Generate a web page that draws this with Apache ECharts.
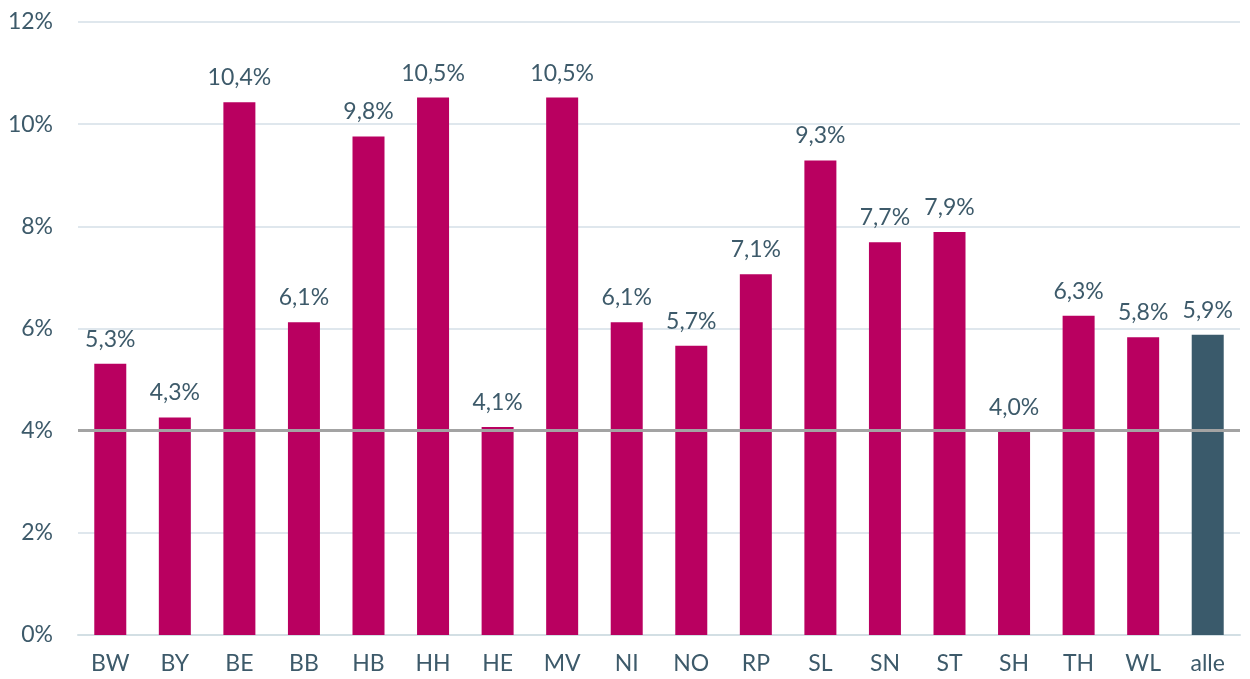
<!DOCTYPE html>
<html><head><meta charset="utf-8">
<script src="https://cdn.jsdelivr.net/npm/echarts@6/dist/echarts.min.js"></script>
<style>html,body{margin:0;padding:0;background:#fff}#c{width:1250px;height:679px}</style>
</head><body><div id="c"></div>
<script>
const categories = ['BW','BY','BE','BB','HB','HH','HE','MV','NI','NO','RP','SL','SN','ST','SH','TH','WL','alle'];
const values = [5.31, 4.26, 10.43, 6.12, 9.76, 10.52, 4.07, 10.52, 6.12, 5.66, 7.06, 9.29, 7.69, 7.89, 3.98, 6.25, 5.83, 5.88];
const yTicks = [0, 2, 4, 6, 8, 10, 12];
const referenceLine = 4;

const textColor = '#3d5a6a';
const font = 'Lato, "Open Sans", sans-serif';
const chart = echarts.init(document.getElementById('c'));
chart.setOption({
  animation: false,
  grid: { left: 78, right: 10, top: 22, bottom: 44 },
  xAxis: {
    type: 'category', data: categories,
    axisTick: { show: false },
    axisLine: { lineStyle: { color: '#d3dfe4', width: 2 } },
    axisLabel: { color: textColor, fontSize: 23, fontFamily: font, margin: 17 }
  },
  yAxis: {
    type: 'value', min: yTicks[0], max: yTicks[yTicks.length-1], interval: 2,
    axisLabel: { color: textColor, fontSize: 23, fontFamily: font, margin: 25, formatter: v => v + '%' },
    splitLine: { lineStyle: { color: '#dfe7ed', width: 2 } },
    axisLine: { show: false }, axisTick: { show: false }
  },
  series: [{
    type: 'bar', barWidth: 32,
    data: values.map((v, i) => ({ value: v, itemStyle: { color: categories[i] === 'alle' ? '#3a5a6b' : '#b90060' } })),
    label: { show: true, position: 'top', distance: 13, color: textColor, fontSize: 23, fontFamily: font,
      formatter: p => p.value.toFixed(1).replace('.', ',') + '%' },
    markLine: {
      silent: true, symbol: 'none', label: { show: false },
      lineStyle: { color: '#a3a3a3', width: 3, type: 'solid' },
      data: [{ yAxis: referenceLine }]
    }
  }]
});
</script></body></html>
